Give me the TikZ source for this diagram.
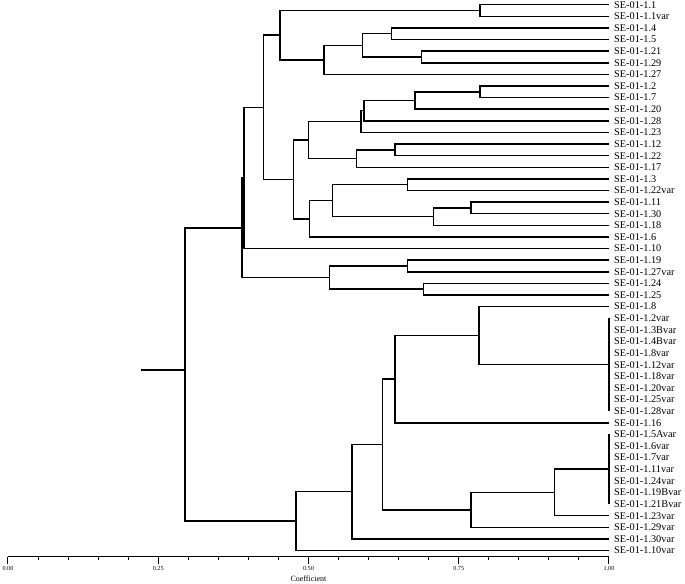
\documentclass[tikz,border=0pt]{standalone}
\usepackage{fontspec}
\setmainfont{Liberation Serif}
\tikzset{
  branch/.style={line width=1.5pt},
  leaflabel/.style={anchor=west, inner xsep=5pt, inner ysep=0pt, font=\fontsize{10.3}{11}\selectfont},
  ticklabel/.style={inner sep=0pt, font=\fontsize{6.2}{7}\selectfont}
}
\begin{document}
\begin{tikzpicture}[x=601pt, y=-11.613pt]
  \useasboundingbox (-0.0133, 0.595) rectangle (1.1265, 50.80);
  \def\axisrow{48.53}
  \foreach \n [count=\i] in {1.1, 1.1var, 1.4, 1.5, 1.21, 1.29, 1.27, 1.2, 1.7, 1.20, 1.28, 1.23,
      1.12, 1.22, 1.17, 1.3, 1.22var, 1.11, 1.30, 1.18, 1.6, 1.10, 1.19, 1.27var, 1.24, 1.25,
      1.8, 1.2var, 1.3Bvar, 1.4Bvar, 1.8var, 1.12var, 1.18var, 1.20var, 1.25var, 1.28var,
      1.16, 1.5Avar, 1.6var, 1.7var, 1.11var, 1.24var, 1.19Bvar, 1.21Bvar, 1.23var, 1.29var,
      1.30var, 1.10var} {
    \node[leaflabel] (l\i) at (1, \i) {SE-01-\n};
  }
  \coordinate (a1) at (0.785, 1.5);
  \coordinate (a2) at (0.638, 3.5);
  \coordinate (a3) at (0.688, 5.5);
  \coordinate (a4) at (0.590, 4.5);
  \coordinate (a5) at (0.526, 5.75);
  \coordinate (a6) at (0.4526, 3.625);
  \coordinate (b1) at (0.785, 8.5);
  \coordinate (b2) at (0.677, 9.25);
  \coordinate (b3) at (0.592, 10.125);
  \coordinate (b4) at (0.587, 11.0625);
  \coordinate (b5) at (0.644, 13.5);
  \coordinate (b6) at (0.580, 14.25);
  \coordinate (b7) at (0.500, 12.656);
  \coordinate (b8) at (0.665, 16.5);
  \coordinate (b9) at (0.770, 18.5);
  \coordinate (b10) at (0.708, 19.25);
  \coordinate (b11) at (0.540, 17.875);
  \coordinate (b12) at (0.502, 19.44);
  \coordinate (b13) at (0.475, 16.05);
  \coordinate (c1) at (0.425, 9.84);
  \coordinate (c2) at (0.393, 15.92);
  \coordinate (d1) at (0.665, 23.5);
  \coordinate (d2) at (0.691, 25.5);
  \coordinate (d3) at (0.535, 24.5);
  \coordinate (c3) at (0.389, 20.21);
  \coordinate (e1) at (1, 32);
  \coordinate (e2) at (0.784, 29.5);
  \coordinate (e3) at (0.644, 33.25);
  \coordinate (f1) at (1, 41);
  \coordinate (f2) at (0.909, 43);
  \coordinate (f3) at (0.770, 44.5);
  \coordinate (e4) at (0.623, 38.875);
  \coordinate (e5) at (0.572, 42.94);
  \coordinate (e6) at (0.479, 45.47);
  \coordinate (root) at (0.2945, 32.46);
  \coordinate (stub) at (0.221, 32.46);
  \draw[branch] (l1.west) -| (a1) |- (l2.west);
  \draw[branch] (l3.west) -| (a2) |- (l4.west);
  \draw[branch] (l5.west) -| (a3) |- (l6.west);
  \draw[branch] (a2) -| (a4) |- (a3);
  \draw[branch] (a4) -| (a5) |- (l7.west);
  \draw[branch] (a1) -| (a6) |- (a5);
  \draw[branch] (l8.west) -| (b1) |- (l9.west);
  \draw[branch] (b1) -| (b2) |- (l10.west);
  \draw[branch] (b2) -| (b3) |- (l11.west);
  \draw[branch] (b3) -| (b4) |- (l12.west);
  \draw[branch] (l13.west) -| (b5) |- (l14.west);
  \draw[branch] (b5) -| (b6) |- (l15.west);
  \draw[branch] (b4) -| (b7) |- (b6);
  \draw[branch] (l16.west) -| (b8) |- (l17.west);
  \draw[branch] (l18.west) -| (b9) |- (l19.west);
  \draw[branch] (b9) -| (b10) |- (l20.west);
  \draw[branch] (b8) -| (b11) |- (b10);
  \draw[branch] (b11) -| (b12) |- (l21.west);
  \draw[branch] (b7) -| (b13) |- (b12);
  \draw[branch] (a6) -| (c1) |- (b13);
  \draw[branch] (c1) -| (c2) |- (l22.west);
  \draw[branch] (l23.west) -| (d1) |- (l24.west);
  \draw[branch] (l25.west) -| (d2) |- (l26.west);
  \draw[branch] (d1) -| (d3) |- (d2);
  \draw[branch] (c2) -| (c3) |- (d3);
  \draw[branch] (l28.west) -- (l36.west);
  \draw[branch] (l27.west) -| (e2) |- (e1);
  \draw[branch] (e2) -| (e3) |- (l37.west);
  \draw[branch] (l38.west) -- (l44.west);
  \draw[branch] (f1) -| (f2) |- (l45.west);
  \draw[branch] (f2) -| (f3) |- (l46.west);
  \draw[branch] (e3) -| (e4) |- (f3);
  \draw[branch] (e4) -| (e5) |- (l47.west);
  \draw[branch] (e5) -| (e6) |- (l48.west);
  \draw[branch] (c3) -| (root) |- (e6);
  \draw[branch] (stub) -- (root);
  \draw[branch] (0, \axisrow) -- (1, \axisrow);
  \foreach \k in {0, 1, ..., 20} {
    \draw[line width=1pt] (\k/20, \axisrow) -- (\k/20, 48.86);
  }
  \foreach \t/\lab [count=\j] in {0/0.00, 0.25/0.25, 0.5/0.50, 0.75/0.75, 1/1.00} {
    \draw[line width=1pt] (\t, \axisrow) -- (\t, 49.14);
    \node[ticklabel] (tick\j) at (\t, 49.51) {\lab};
  }
  \node[inner sep=0pt, font=\fontsize{8}{9}\selectfont] (coef) at (0.5, 50.39) {Coefficient};
\end{tikzpicture}
\end{document}
